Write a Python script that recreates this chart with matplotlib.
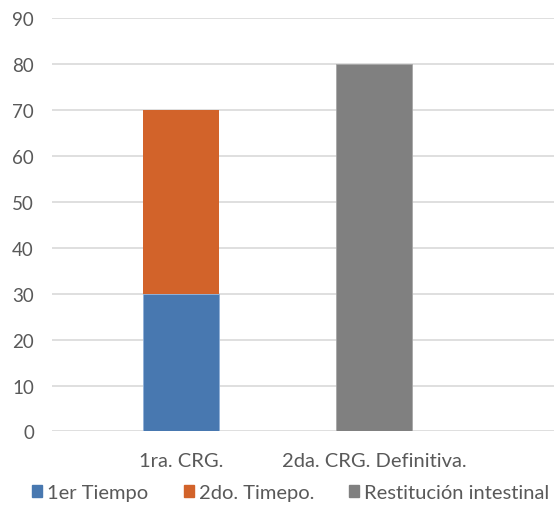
import matplotlib.pyplot as plt
from matplotlib.patches import Patch

categories = ['1ra. CRG.', '2da. CRG. Definitiva.']
primer_tiempo = [30, 0]
segundo_tiempo = [40, 0]
restitucion = [0, 80]
series_names = ['1er Tiempo', '2do. Timepo.', 'Restitución intestinal']
colors = ['#4878b0', '#d2632a', '#808080']

plt.rcParams['font.family'] = ['Lato', 'DejaVu Sans']
text_color = '#595959'

fig = plt.figure(figsize=(5.54, 5.06), dpi=100)
ax = fig.add_axes([0.0939, 0.1453, 0.9061, 0.8172])

x = range(len(categories))
w = 0.393
ax.bar(x, primer_tiempo, w, color=colors[0], edgecolor='#8fb0d8', linewidth=0.6, zorder=3)
ax.bar(x, segundo_tiempo, w, bottom=primer_tiempo, color=colors[1], zorder=3)
ax.bar(x, restitucion, w, color=colors[2], edgecolor='#a6a6a6', linewidth=0.6, zorder=3)

ax.set_xlim(-0.667, 1.928)
ax.set_ylim(0, 90)
ax.set_yticks(range(0, 91, 10))
ax.set_xticks(list(x))
ax.set_xticklabels(categories)
ax.grid(axis='y', color='#d9d9d9', linewidth=1.2, zorder=0)
for s in ax.spines.values():
    s.set_visible(False)
ax.tick_params(length=0, colors=text_color)
ax.tick_params(axis='y', pad=13, labelsize=13.5)
ax.tick_params(axis='x', pad=15, labelsize=14.5)

handles = [Patch(color=c) for c in colors]
fig.legend(handles, series_names, loc='center left', bbox_to_anchor=(0.058, 0.024),
           ncol=3, frameon=False, fontsize=14.5, labelcolor=text_color,
           handlelength=0.5, handleheight=0.5, handletextpad=0.25, columnspacing=1.75,
           borderaxespad=0, borderpad=0)

fig.savefig('out.png', dpi=100)
